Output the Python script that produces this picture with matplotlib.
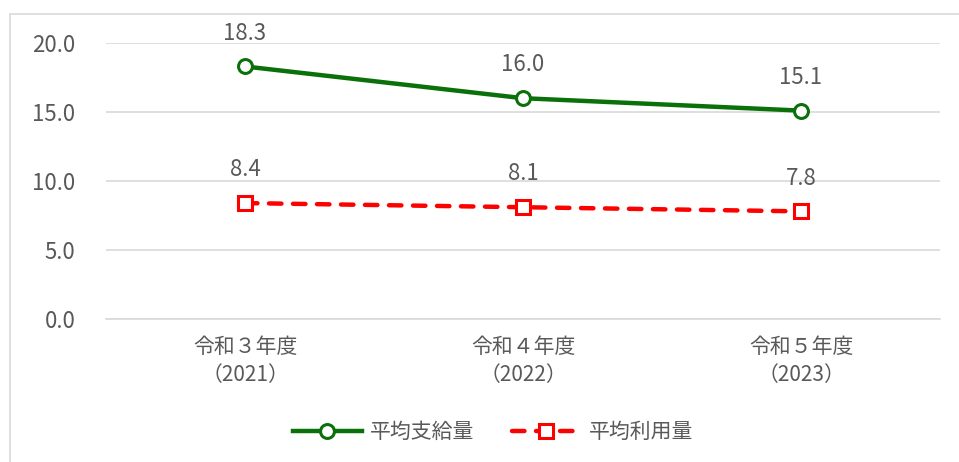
import matplotlib.pyplot as plt
from matplotlib.patches import Rectangle

plt.rcParams['font.family'] = ['Noto Sans CJK JP', 'DejaVu Sans']

# data
categories = ['令和３年度\n（2021）', '令和４年度\n（2022）', '令和５年度\n（2023）']
supply = [18.3, 16.0, 15.1]
usage = [8.4, 8.1, 7.8]
yticks = [0.0, 5.0, 10.0, 15.0, 20.0]

text_color = '#595959'
green = '#0A700A'
red = '#FF0000'

fig = plt.figure(figsize=(9.59, 4.62), dpi=100)
ax = fig.add_axes([106 / 959, 1 - 319 / 462, 834 / 959, 276 / 462])

# outer chart border
fig.patches.append(Rectangle((10 / 959, -0.05), 1.0, 1 - 14 / 462 + 0.05,
                             transform=fig.transFigure, fill=False,
                             edgecolor='#D9D9D9', linewidth=1.2))

x = range(len(categories))
ax.plot(x, supply, color=green, linewidth=3.2, marker='o', markersize=10,
        markerfacecolor='white', markeredgecolor=green, markeredgewidth=2.2,
        label='平均支給量', zorder=3)
ax.plot(x, usage, color=red, linewidth=3.2, linestyle=(0, (2.8, 2.6)),
        dash_capstyle='round', marker='s', markersize=10,
        markerfacecolor='white', markeredgecolor=red, markeredgewidth=2.2,
        label='平均利用量', zorder=3)

for xi, v in zip(x, supply):
    ax.annotate(f'{v:.1f}', (xi, v), xytext=(0, 24), textcoords='offset points',
                ha='center', va='center', fontsize=16, color=text_color)
for xi, v in zip(x, usage):
    ax.annotate(f'{v:.1f}', (xi, v), xytext=(0, 24), textcoords='offset points',
                ha='center', va='center', fontsize=16, color=text_color)

ax.set_xlim(-0.5, 2.5)
ax.set_ylim(0, 20)
ax.set_yticks(yticks)
ax.set_yticklabels([f'{t:.1f}' for t in yticks], fontsize=16, color=text_color)
ax.set_xticks(list(x))
ax.set_xticklabels(categories, fontsize=15, color=text_color, linespacing=1.35)
ax.tick_params(axis='both', length=0)
ax.tick_params(axis='y', pad=22)
ax.tick_params(axis='x', pad=12)

ax.grid(axis='y', color='#D9D9D9', linewidth=1.2)
ax.set_axisbelow(True)
for s in ['top', 'right', 'left']:
    ax.spines[s].set_visible(False)
ax.spines['bottom'].set_color('#D9D9D9')
ax.spines['bottom'].set_linewidth(1.2)

fig.legend(loc='center', bbox_to_anchor=(493 / 959, 1 - 432 / 462), ncol=2,
           frameon=False, fontsize=15, labelcolor=text_color,
           handlelength=3.3, columnspacing=1.8, handletextpad=0.4)

fig.savefig('out.png', dpi=100)
